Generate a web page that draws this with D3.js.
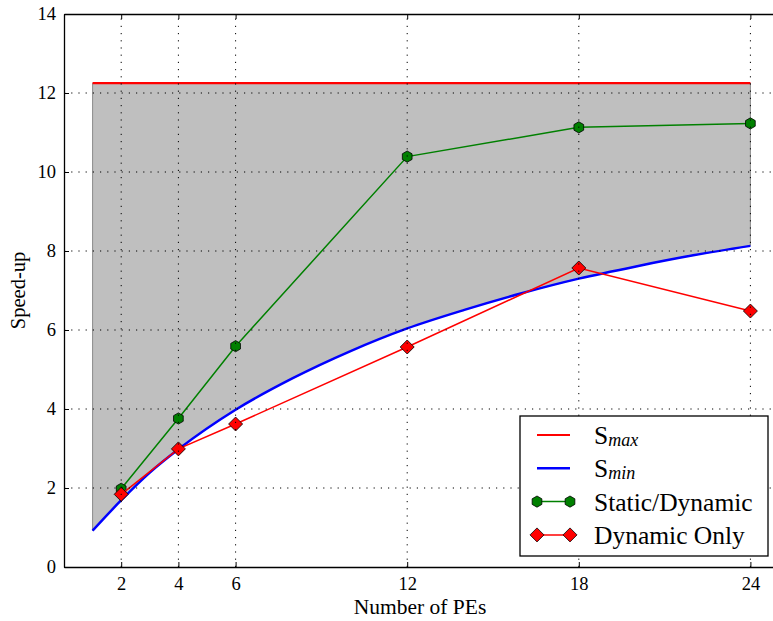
<!DOCTYPE html>
<html>
<head>
<meta charset="utf-8">
<script src="https://cdn.jsdelivr.net/npm/d3@7"></script>
<style>
  body { margin: 0; background: #fff; }
  svg { display: block; }
</style>
</head>
<body>
<script>
const width = 773;
const height = 621;
const serif = "'Liberation Serif', 'Times New Roman', serif";

// number of PEs where the measurements were taken
const pes = [2, 4, 6, 12, 18, 24];
const staticDynamic = [1.98, 3.76, 5.59, 10.39, 11.13, 11.23];
const dynamicOnly = [1.84, 2.99, 3.62, 5.57, 7.57, 6.48];

// bounds
const sMaxValue = 12.25;
const sMinX = [1, 2, 3, 4, 6, 8, 10, 12, 14, 16, 18, 20, 22, 24];
const sMinY = [0.92, 1.69, 2.39, 2.98, 3.98, 4.78, 5.46, 6.04, 6.51, 6.93, 7.3, 7.61, 7.89, 8.13];

const xTicks = [2, 4, 6, 12, 18, 24];
const yTicks = [0, 2, 4, 6, 8, 10, 12, 14];

const margin = { left: 64, top: 14, bottom: 54 };

const x = d3.scaleLinear().domain([0, 25]).range([margin.left, margin.left + 25 * 28.6]);
const y = d3.scaleLinear().domain([0, 14]).range([height - margin.bottom, margin.top]);

const svg = d3.select("body").append("svg")
    .attr("width", width)
    .attr("height", height)
    .attr("font-family", serif);

const sMin = sMinX.map((d, i) => ({ x: d, y: sMinY[i] }));

// shaded band between the bounds
const area = d3.area()
    .x(d => x(d.x))
    .y0(d => y(d.y))
    .y1(() => y(sMaxValue))
    .curve(d3.curveMonotoneX);

svg.append("path")
    .datum(sMin)
    .attr("d", area)
    .attr("fill", "#bfbfbf")
    .attr("stroke", "#8a8a8a")
    .attr("stroke-width", 1);

// Smax
svg.append("line")
    .attr("x1", x(sMinX[0]))
    .attr("x2", x(sMinX[sMinX.length - 1]))
    .attr("y1", y(sMaxValue))
    .attr("y2", y(sMaxValue))
    .attr("stroke", "#ff0000")
    .attr("stroke-width", 2.2);

// Smin
svg.append("path")
    .datum(sMin)
    .attr("d", d3.line().x(d => x(d.x)).y(d => y(d.y)).curve(d3.curveMonotoneX))
    .attr("fill", "none")
    .attr("stroke", "#0000ff")
    .attr("stroke-width", 2.5);

const hexagon = r => d3.range(6).map(i => {
    const a = -Math.PI / 2 + i * Math.PI / 3;
    return [r * Math.cos(a), r * Math.sin(a)];
});
const hexPath = "M" + hexagon(5.6).join("L") + "Z";
const diamondPath = "M0,-7L7,0L0,7L-7,0Z";

function drawSeries(values, color, markerPath) {
    const pts = pes.map((d, i) => ({ x: d, y: values[i] }));
    svg.append("path")
        .datum(pts)
        .attr("d", d3.line().x(d => x(d.x)).y(d => y(d.y)))
        .attr("fill", "none")
        .attr("stroke", color)
        .attr("stroke-width", 1.5);
    svg.append("g")
        .selectAll("path")
        .data(pts)
        .enter().append("path")
        .attr("d", markerPath)
        .attr("transform", d => `translate(${x(d.x)},${y(d.y)})`)
        .attr("fill", color)
        .attr("stroke", "#000")
        .attr("stroke-width", 0.8);
}

drawSeries(staticDynamic, "#008000", hexPath);
drawSeries(dynamicOnly, "#ff0000", diamondPath);

// dotted grid on top of data
const grid = svg.append("g")
    .attr("stroke", "#000")
    .attr("stroke-width", 1)
    .attr("stroke-dasharray", "1.2,6");

grid.selectAll(".gx")
    .data(xTicks)
    .enter().append("line")
    .attr("x1", d => x(d)).attr("x2", d => x(d))
    .attr("y1", y(0)).attr("y2", y(14));

grid.selectAll(".gy")
    .data(yTicks.filter(d => d > 0 && d < 14))
    .enter().append("line")
    .attr("x1", x(0)).attr("x2", x(25))
    .attr("y1", d => y(d)).attr("y2", d => y(d));

// axes with inward ticks
const xAxis = svg.append("g")
    .attr("transform", `translate(0,${y(0)})`)
    .call(d3.axisBottom(x).tickValues(xTicks).tickSizeInner(-5).tickSizeOuter(0).tickPadding(10));

const xTop = svg.append("g")
    .attr("transform", `translate(0,${y(14)})`)
    .call(d3.axisTop(x).tickValues(xTicks).tickSizeInner(-5).tickSizeOuter(0).tickFormat(""));

const yAxis = svg.append("g")
    .attr("transform", `translate(${x(0)},0)`)
    .call(d3.axisLeft(y).tickValues(yTicks).tickSizeInner(-5).tickSizeOuter(0).tickPadding(8));

[xAxis, xTop, yAxis].forEach(g => {
    g.attr("font-family", serif).attr("font-size", 18.5);
    g.select(".domain").attr("stroke", "#000").attr("stroke-width", 1.3);
    g.selectAll(".tick line").attr("stroke", "#000").attr("stroke-width", 1);
    g.selectAll(".tick text").attr("fill", "#000");
});

svg.append("text")
    .attr("x", 420)
    .attr("y", 614)
    .attr("text-anchor", "middle")
    .attr("font-size", 21.5)
    .text("Number of PEs");

svg.append("text")
    .attr("transform", `translate(25,${(y(0) + y(14)) / 2}) rotate(-90)`)
    .attr("text-anchor", "middle")
    .attr("font-size", 20.5)
    .text("Speed-up");

// legend
const legend = svg.append("g").attr("transform", "translate(520,416)");
legend.append("rect")
    .attr("width", 248)
    .attr("height", 140)
    .attr("fill", "#fff")
    .attr("stroke", "#000")
    .attr("stroke-width", 1.3);

const legendItems = [
    { label: "S", sub: "max", color: "#ff0000", width: 2.2, marker: null },
    { label: "S", sub: "min", color: "#0000ff", width: 2.5, marker: null },
    { label: "Static/Dynamic", color: "#008000", width: 1.5, marker: hexPath },
    { label: "Dynamic Only", color: "#ff0000", width: 1.5, marker: diamondPath }
];

const item = legend.selectAll(".item")
    .data(legendItems)
    .enter().append("g")
    .attr("transform", (d, i) => `translate(0,${19 + i * 33.3})`);

item.append("line")
    .attr("x1", 17).attr("x2", 50)
    .attr("stroke", d => d.color)
    .attr("stroke-width", d => d.width);

item.each(function (d) {
    if (!d.marker) return;
    d3.select(this).selectAll("path")
        .data([17, 50])
        .enter().append("path")
        .attr("d", d.marker)
        .attr("transform", p => `translate(${p},0)`)
        .attr("fill", d.color)
        .attr("stroke", "#000")
        .attr("stroke-width", 0.8);
});

const label = item.append("text")
    .attr("x", 74)
    .attr("dy", "0.35em")
    .attr("font-size", 25.5);

label.append("tspan").text(d => d.label);
label.filter(d => d.sub).append("tspan")
    .attr("dy", "0.12em")
    .attr("font-size", 18)
    .attr("font-style", "italic")
    .text(d => d.sub);
</script>
</body>
</html>
